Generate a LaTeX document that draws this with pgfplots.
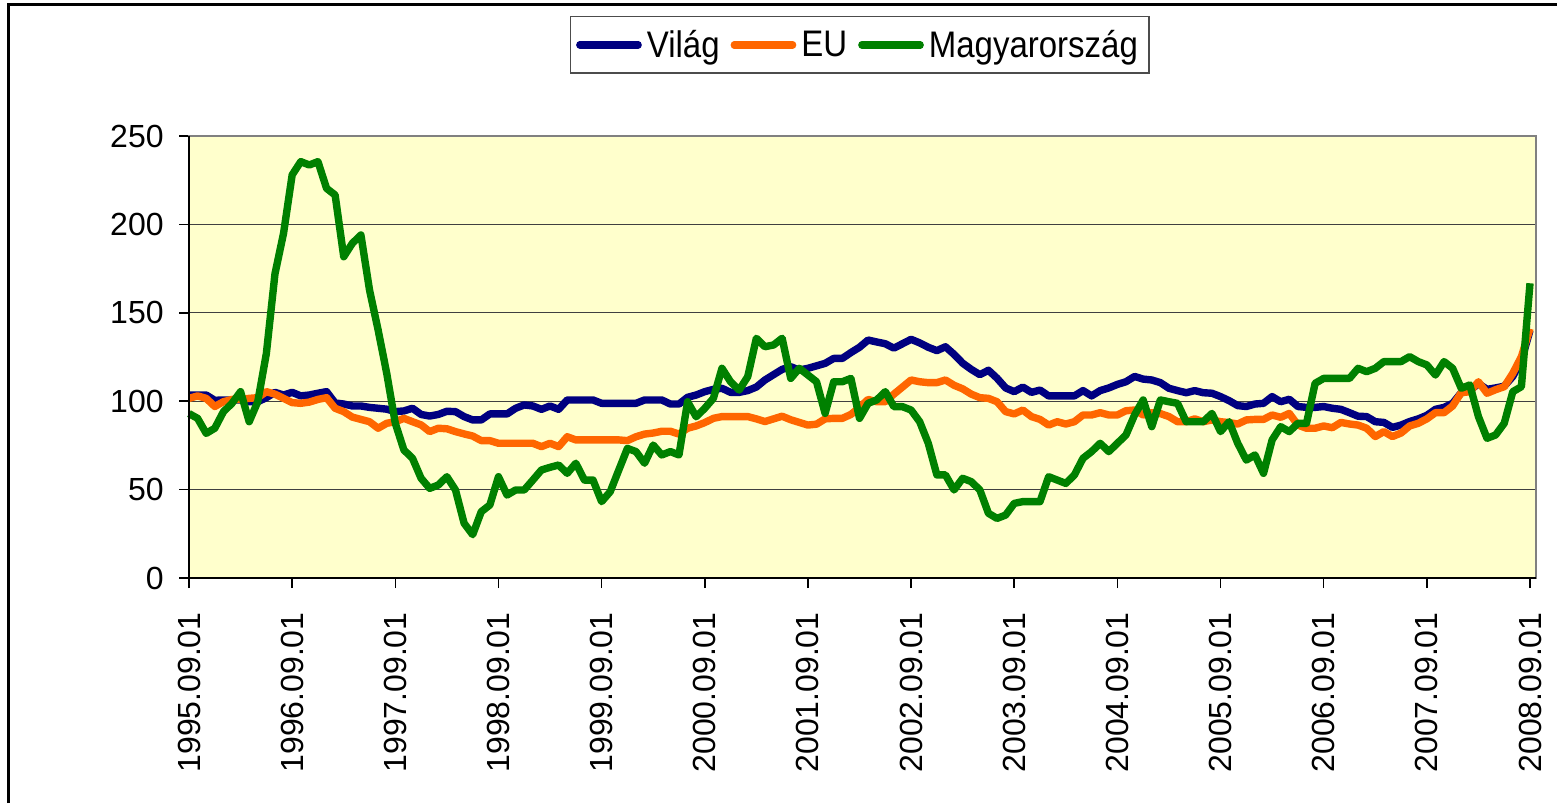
\documentclass[border=0pt]{standalone}
\usepackage{fontspec}
\setmainfont{Liberation Sans}
\usepackage{pgfplots}
\usepackage{pgfplotstable}
\pgfplotsset{compat=1.18}
\definecolor{vilag}{HTML}{000080}
\definecolor{eu}{HTML}{FF6600}
\definecolor{hu}{HTML}{008000}
\definecolor{bg}{HTML}{FFFFCC}

% monthly index 0 = 1995.09 ... 156 = 2008.09
\pgfplotstableread{
v e m
103.5 101.6 93
103.5 103 90.3
103.5 101.6 81.8
100.5 97 84.7
100.7 99.7 94
100.7 101 98.8
100.7 101 105.4
99.7 101.6 88.4
99.7 102 99.7
102 105.4 127
105 104 172
103.5 101.6 195
105 99.2 228
103 98.8 235.5
103.5 99.5 233.6
104.5 101 235.5
105.4 102 220.4
99 96 216.6
98.4 94.1 181.7
97.3 91 189.3
97.3 89.7 194
96.5 88.4 162.9
96 84.7 140.3
95.5 87.5 115.8
94.1 88.4 87.5
94.5 90.3 72.4
96 88.4 67.7
92.5 86.6 56.4
91.6 82.8 50.7
92.5 84.7 52.6
94.3 84.4 57.3
94.1 82.8 49.8
91.3 81.5 31
89.4 80.3 24.5
89.4 77.7 37.5
92.8 77.7 41.3
92.8 76.2 57.3
92.8 76.2 46.9
96 76.2 49.8
97.9 76.2 49.8
97.3 76.2 55.4
95.4 74.3 61.1
97.3 76.2 62.6
95.4 74.3 63.9
100.7 79.9 59.2
100.7 78.1 64.9
100.7 78.1 55.4
100.7 78.1 55.4
98.8 78.1 43.2
98.8 78.1 48.8
98.8 78.1 61.1
98.8 77.7 73.3
98.8 79.9 71.5
100.7 81.4 64.9
100.7 82 75.2
100.7 83 69.6
98.4 83 71.5
98.4 81.4 69.6
102.2 84.7 99.7
103.5 86 91.2
105.4 87.9 96
106.7 90.3 101.6
107.3 91.3 118.6
105 91.3 111
105 91.3 106.3
106 91.3 113.9
108 90 135.6
112 88.5 130.8
115 90 131.8
118 91.5 135.6
119.5 89.5 112.9
117.6 88 118.6
118.6 86.5 114.8
120 87 111
121.4 90 93.1
124.2 90.3 111
124.2 90.3 111
127.5 92.5 112.9
130.5 96.5 90.3
134.6 101 98.8
133.5 99.7 100.7
132.5 99.7 105.4
130 104 96.9
132.5 108 96.9
135 112 95
133 111 88.4
130.5 110.5 76.2
128.6 110.5 58.3
130.8 112 58.3
126.5 109 49.8
121.5 107 56.4
118 104 54.5
115 102 49.8
117.5 101.6 36.6
113 99.7 33.7
107.5 94.1 35.6
105.4 92.8 42.2
108 95 43.2
105 91.3 43.2
106.3 89.7 43.2
103 86.5 57.3
103 88.4 55.4
103 87.1 53.5
103 88.4 58.3
106 92.2 67.7
103 92.2 71.5
106 93.5 76.2
107.5 92.2 71.5
109.5 92.2 76.2
111 94.6 80.9
114 95 92.2
112.5 92.2 100.7
112 93.5 85.6
110.5 93 100.7
107.3 91.3 99.7
106 88.4 98.8
104.8 88.4 88.4
106 90 88.4
104.8 88.4 88.4
104.5 89.4 93.1
102.6 88.4 82.8
100.3 87.9 88.4
97.5 87.1 76.2
97 89.4 66.7
98.4 89.7 69.6
98.8 89.7 59.2
102.6 92.2 78.1
99.7 90.9 85.6
101.1 93.1 82.8
97 86.5 87.5
96.5 84.7 87.5
96.5 84.7 110.1
97 86 112.9
96 85 112.9
95.4 88 112.9
93.5 87.1 112.9
91.5 86.5 118.6
91.3 84.7 116.7
88.4 80 118.6
88 82.8 122.4
85.2 80 122.4
86.5 82 122.4
88.5 86 125.2
90 87.5 122.4
92 90 120.5
95.4 93.5 114.8
96.5 93.5 122.4
98.8 97.3 118.6
104.8 104.8 107.3
105.9 105.4 109.2
110 111 91.3
106.7 104.5 79
107.5 106.5 80.9
108.5 108.2 87.5
114 115.8 105.4
123 125.2 108.2
140 141 166.7
}\data

\begin{document}
\begin{tikzpicture}
\useasboundingbox (0,0) rectangle (778.5pt,401.5pt);
\draw[line width=1.5pt] (4pt,0) -- (4pt,399pt) -- (778.5pt,399pt);
\begin{axis}[
  at={(94.5pt,112.5pt)}, anchor=south west,
  scale only axis, width=673.5pt, height=221pt,
  xmin=0, xmax=156.7, ymin=0, ymax=250,
  clip=false,
  axis background/.style={fill=bg},
  axis line style={draw=gray, line width=1pt},
  ytick={0,50,100,150,200,250},
  xtick={0,12,24,36,48,60,72,84,96,108,120,132,144,156},
  xticklabels={1995.09.01,1996.09.01,1997.09.01,1998.09.01,1999.09.01,2000.09.01,2001.09.01,2002.09.01,2003.09.01,2004.09.01,2005.09.01,2006.09.01,2007.09.01,2008.09.01},
  tick pos=left,
  tick align=outside,
  major tick length=5pt,
  tick style={black, line width=0.8pt},
  ymajorgrids,
  grid style={black!75, line width=0.6pt},
  /pgf/number format/assume math mode=true,
  tick label style={font=\fontsize{16}{18}\selectfont},
  yticklabel style={inner xsep=7.5pt},
  xticklabel style={rotate=90, anchor=east, inner xsep=12pt},
  legend columns=3,
  legend image code/.code={\draw[#1, line width=3.6pt, line cap=round] (1.75pt,0pt) -- (31pt,0pt);},
  legend style={at={(0.4978,1.206)}, anchor=center, draw=black!70, line width=0.6pt, fill=white,
    font=\fontsize{16.5}{18}\selectfont, inner xsep=3pt, inner ysep=4.5pt,
    nodes={inner xsep=2.5pt, inner ysep=2pt},
    /tikz/every even column/.append style={column sep=3pt}},
]
\addplot[vilag, line width=3.7pt, line join=round] table[x expr=\coordindex, y=v] {\data};
\addplot[eu, line width=3.7pt, line join=round] table[x expr=\coordindex, y=e] {\data};
\addplot[hu, line width=3.7pt, line join=round] table[x expr=\coordindex, y=m] {\data};
\legend{\scalebox{1}[1.12]{Világ}, \scalebox{1}[1.12]{EU}, \scalebox{1}[1.12]{Magyarország}}
\draw[black, line width=0.8pt] (rel axis cs:0,1) -- (rel axis cs:0,0) -- (rel axis cs:1,0);
\end{axis}
\end{tikzpicture}
\end{document}
